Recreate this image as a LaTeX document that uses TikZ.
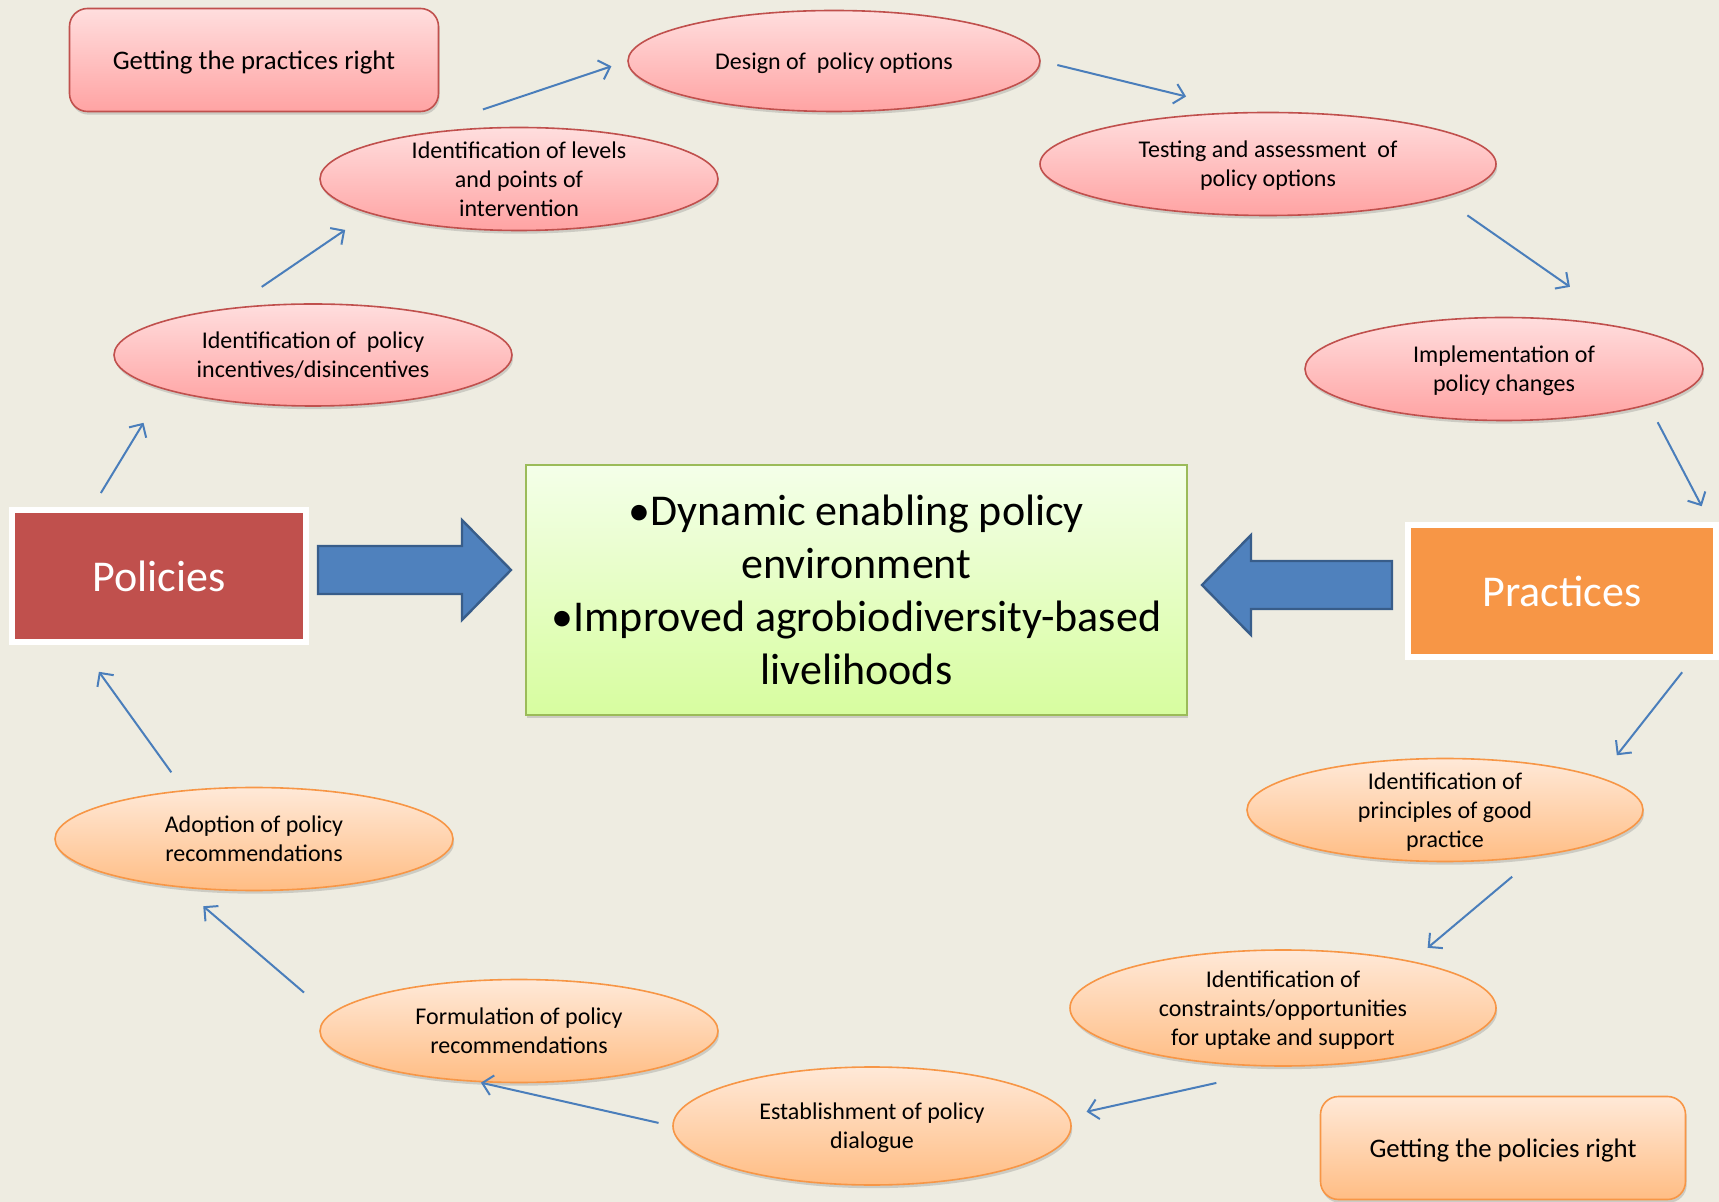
\documentclass[tikz,border=0pt]{standalone}
\usepackage{fontspec}
\setmainfont{Carlito}
\usetikzlibrary{arrows.meta, calc, shapes.geometric, shadows}

\definecolor{bgbeige}{HTML}{EEECE1}
\definecolor{redline}{HTML}{C0504D}
\definecolor{redtop}{HTML}{FFDEDE}
\definecolor{redbot}{HTML}{FFA3A3}
\definecolor{orline}{HTML}{F79646}
\definecolor{ortop}{HTML}{FFE9D8}
\definecolor{orbot}{HTML}{FFBD84}
\definecolor{grline}{HTML}{9BBB59}
\definecolor{grtop}{HTML}{F4FFE9}
\definecolor{grbot}{HTML}{D7FD9F}
\definecolor{arrfill}{HTML}{4F81BD}
\definecolor{arrline}{HTML}{385D8A}
\definecolor{flowcol}{HTML}{4A7EBB}

\tikzset{
  softshadow/.style={drop shadow={opacity=0.3, shadow xshift=0.6pt, shadow yshift=-1.6pt}},
  bubble/.style={ellipse, line width=0.8pt, minimum width=199pt, minimum height=51.5pt,
    inner xsep=0pt, inner ysep=-4pt, text depth=0pt, align=center, font=\fontsize{12}{14.5}\selectfont, softshadow},
  redbub/.style={bubble, draw=redline, top color=redtop, bottom color=redbot},
  orbub/.style={bubble, draw=orline, top color=ortop, bottom color=orbot},
  tagbox/.style={rectangle, rounded corners=9pt, line width=0.8pt, minimum width=184.5pt,
    minimum height=51.5pt, text depth=0pt, font=\fontsize{13.4}{16}\selectfont, softshadow},
  cornerbox/.style={rectangle, draw=white, line width=3pt, minimum width=147pt, minimum height=66pt,
    text=white, font=\fontsize{22}{26}\selectfont, softshadow},
  goalbox/.style={rectangle, draw=grline, line width=0.8pt, top color=grtop, bottom color=grbot,
    minimum width=330.5pt, minimum height=125pt, align=center, font=\fontsize{22}{26.4}\selectfont, softshadow},
  flow/.style={draw=flowcol, line width=1pt, -{Straight Barb[length=5pt,width=10pt]}},
  bigarr/.style={fill=arrfill, draw=arrline, line width=1.2pt, line join=miter}
}

\begin{document}
\begin{tikzpicture}[x=0.5pt, y=-0.5pt]
\fill[bgbeige] (0,0) rectangle (1719,1202);
\useasboundingbox (0,0) rectangle (1719,1202);

% Corner labels
\node[tagbox, draw=redline, top color=redtop, bottom color=redbot] (pract) at (254,60) {Getting the practices right};
\node[tagbox, draw=orline, top color=ortop, bottom color=orbot, minimum width=182.5pt] (polright) at (1503,1148) {Getting the policies right};

% Policy steps
\node[redbub, minimum width=206pt, minimum height=50.5pt] (design) at (834,61) {Design of~ policy options};
\node[redbub] (levels) at (519,179) {Identification of levels\\and points of\\intervention};
\node[redbub, minimum width=228pt] (testing) at (1268,164) {Testing and assessment~ of\\policy options};
\node[redbub, minimum height=51pt] (incent) at (313,355) {Identification of~ policy\\incentives/disincentives};
\node[redbub] (implem) at (1504,369) {Implementation of\\policy changes};

% Practice steps
\node[orbub, minimum width=198pt] (princ) at (1445,810) {Identification of\\principles of good\\practice};
\node[orbub, minimum width=213pt, minimum height=58pt] (constr) at (1283,1008) {Identification of\\constraints/opportunities\\for uptake and support};
\node[orbub, minimum height=59pt] (dial) at (872,1126) {Establishment of policy\\dialogue};
\node[orbub] (formul) at (519,1031) {Formulation of policy\\recommendations};
\node[orbub] (adopt) at (254,839) {Adoption of policy\\recommendations};

% Main boxes
\node[cornerbox, fill=redline] (pol) at (159,576) {Policies};
\node[cornerbox, fill=orline, minimum width=154pt] (prac) at (1562,591) {Practices};
\node[goalbox] (goal) at (856.5,590) {•Dynamic enabling policy\\environment\\•Improved agrobiodiversity-based\\livelihoods};

% Big arrows into the goal
\draw[bigarr] ($(pol.east)+(9,-6)$) ++(0,-24) -- ++(144,0) -- ++(0,-26) -- ++(49,50)
  -- ++(-49,50) -- ++(0,-26) -- ++(-144,0) -- cycle;
\draw[bigarr] ($(prac.west)+(-13,-6)$) ++(0,-24) -- ++(-141,0) -- ++(0,-26) -- ++(-49,50)
  -- ++(49,50) -- ++(0,-26) -- ++(141,0) -- cycle;

% The cycle
\draw[flow, shorten <=8.2pt, shorten >=19.5pt] (pol.134) -- (incent.193);
\draw[flow, shorten <=18.5pt, shorten >=14.5pt] (incent.150) -- (levels.193.5);
\draw[flow, shorten <=42.5pt, shorten >=8.3pt] (levels.160.7) -- (design.west);
\draw[flow, shorten <=8.5pt, shorten >=32.4pt] (design.east) -- (testing.110.3);
\draw[flow, shorten <=15.3pt, shorten >=36.2pt] (testing.349) -- (implem.18);
\draw[flow, shorten <=9.7pt, shorten >=8.9pt] (implem.346.7) -- (prac.25);
\draw[flow, shorten <=7.8pt, shorten >=13.9pt] (prac.332.8) -- (princ.12);
\draw[flow, shorten <=15.7pt, shorten >=10.3pt] (princ.333) -- (constr.20.3);
\draw[flow, shorten <=37.3pt, shorten >=9.1pt] (constr.276.8) -- (dial.3.2);
\draw[flow, shorten <=7pt, shorten >=1pt] (dial.west) -- (formul.232);
\draw[flow, shorten <=16.8pt, shorten >=14.2pt] (formul.175.2) -- (adopt.214.4);
\draw[flow, shorten <=10.9pt, shorten >=16.5pt] (adopt.145.3) -- (pol.221.9);
\end{tikzpicture}
\end{document}
